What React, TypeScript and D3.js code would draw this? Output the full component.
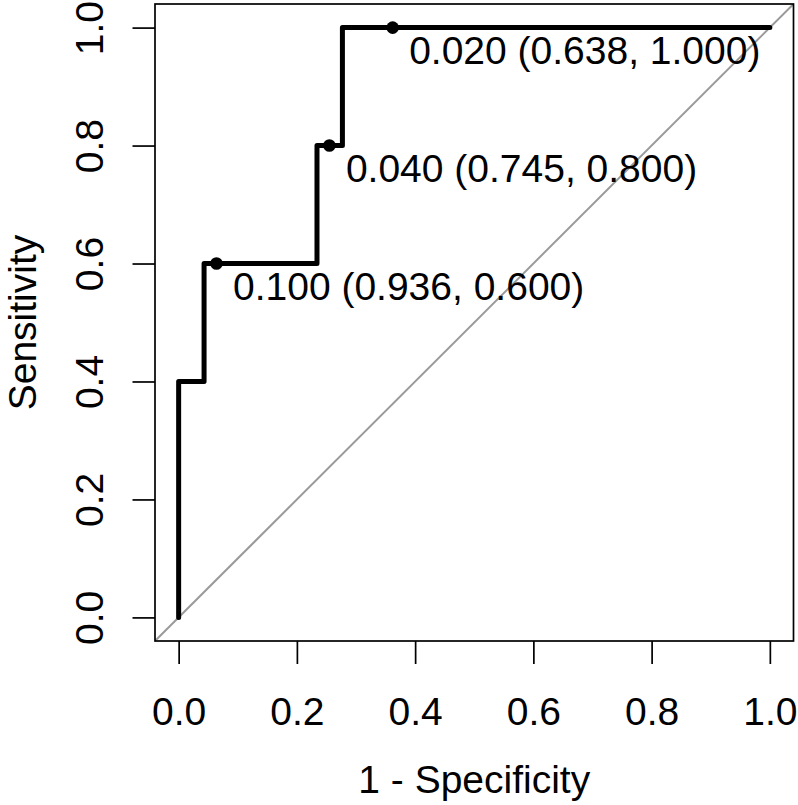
import React, { useRef, useEffect } from 'react';
import * as d3 from 'd3';

// ROC curve (1 - specificity vs sensitivity), step points
const fpr = [0, 0, 0.043, 0.043, 0.234, 0.234, 0.277, 0.277, 1];
const tpr = [0, 0.4, 0.4, 0.6, 0.6, 0.8, 0.8, 1, 1];

// printed thresholds
const thresholds = [0.1, 0.04, 0.02];
const thresSpec = [0.936, 0.745, 0.638];
const thresSens = [0.6, 0.8, 1.0];

const axisTicks = [0, 0.2, 0.4, 0.6, 0.8, 1.0];

const W = 798;
const H = 805;
const FONT = '"Liberation Sans", Arial, sans-serif';
const FS = 39;

const App = () => {
    const ref = useRef<SVGSVGElement>(null);

    useEffect(() => {
        const svg = d3.select(ref.current);
        svg.selectAll('*').remove();

        const box = { left: 155, right: 793.5, top: 4, bottom: 641 };
        const x = d3.scaleLinear().domain([-0.04, 1.04]).range([box.left, box.right]);
        const y = d3.scaleLinear().domain([-0.04, 1.04]).range([box.bottom, box.top]);

        svg.append('defs').append('clipPath').attr('id', 'plotclip')
            .append('rect')
            .attr('x', box.left).attr('y', box.top)
            .attr('width', box.right - box.left).attr('height', box.bottom - box.top);

        // identity line
        svg.append('line')
            .attr('clip-path', 'url(#plotclip)')
            .attr('x1', x(-0.04)).attr('y1', y(-0.04))
            .attr('x2', x(1.04)).attr('y2', y(1.04))
            .attr('stroke', '#9a9a9a').attr('stroke-width', 2);

        // ROC curve
        const pts = fpr.map((f, i) => [f, tpr[i]] as [number, number]);
        const line = d3.line<[number, number]>().x(d => x(d[0])).y(d => y(d[1]));
        svg.append('path').datum(pts)
            .attr('fill', 'none').attr('stroke', '#000').attr('stroke-width', 5)
            .attr('stroke-linejoin', 'round').attr('stroke-linecap', 'round')
            .attr('d', line);

        // threshold points and labels
        thresholds.forEach((t, i) => {
            const px = x(1 - thresSpec[i]);
            const py = y(thresSens[i]);
            svg.append('circle').attr('cx', px).attr('cy', py).attr('r', 6.3).attr('fill', '#000');
            svg.append('text')
                .attr('x', px + 16.5).attr('y', py + 36)
                .attr('font-family', FONT).attr('font-size', FS).attr('fill', '#000')
                .text(`${t.toFixed(3)} (${thresSpec[i].toFixed(3)}, ${thresSens[i].toFixed(3)})`);
        });

        // axes
        const gx = svg.append('g').attr('transform', `translate(0,${box.bottom})`)
            .call(d3.axisBottom(x).tickValues(axisTicks).tickSize(23).tickSizeOuter(0).tickFormat(d3.format('.1f')));
        const gy = svg.append('g').attr('transform', `translate(${box.left},0)`)
            .call(d3.axisLeft(y).tickValues(axisTicks).tickSize(22.5).tickSizeOuter(0).tickFormat(d3.format('.1f')));

        [gx, gy].forEach(g => {
            g.attr('font-family', FONT).attr('font-size', FS);
            g.select('.domain').remove();
            g.selectAll('line').attr('stroke', '#000').attr('stroke-width', 1.7);
            g.selectAll('text').attr('fill', '#000');
        });
        gx.selectAll('text').attr('y', 84).attr('dy', null);
        gy.selectAll('text')
            .attr('x', null).attr('dy', null)
            .attr('text-anchor', 'middle')
            .attr('transform', 'translate(-52,0) rotate(-90)');

        // box
        svg.append('rect')
            .attr('x', box.left).attr('y', box.top)
            .attr('width', box.right - box.left).attr('height', box.bottom - box.top)
            .attr('fill', 'none').attr('stroke', '#000').attr('stroke-width', 1.7);

        // axis titles
        svg.append('text')
            .attr('x', (x(0) + x(1)) / 2).attr('y', 793)
            .attr('text-anchor', 'middle')
            .attr('font-family', FONT).attr('font-size', FS)
            .text('1 - Specificity');
        svg.append('text')
            .attr('transform', `translate(36,${(y(0) + y(1)) / 2}) rotate(-90)`)
            .attr('text-anchor', 'middle')
            .attr('font-family', FONT).attr('font-size', FS)
            .text('Sensitivity');
    }, []);

    return (
        <svg ref={ref} width={W} height={H}
            style={{ position: 'absolute', left: 0, top: 0, background: '#fff' }} />
    );
};

export default App;
